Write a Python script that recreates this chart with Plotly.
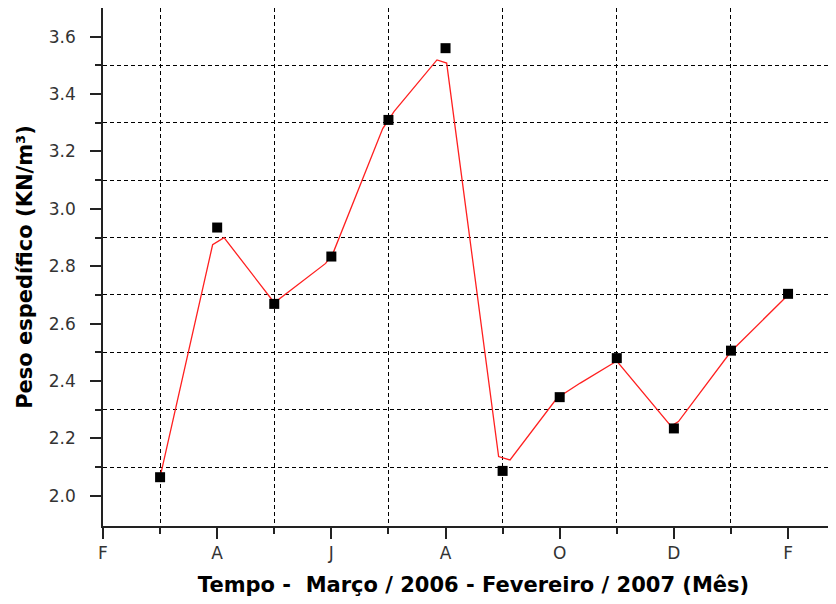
import plotly.graph_objects as go

# Data (months from Feb 2006 = 0)
month_index = [1, 2, 3, 4, 5, 6, 7, 8, 9, 10, 11, 12]
peso_especifico = [2.065, 2.935, 2.669, 2.834, 3.310, 3.560, 2.087, 2.344, 2.480, 2.235, 2.506, 2.704]

# smoothed red curve (as drawn in the original)
curve_month = [1.0, 1.92, 2.12, 3.0, 3.9, 4.03, 4.9, 5.1, 5.85, 6.02, 6.93, 7.13, 7.95, 8.36, 9.0, 9.95, 10.08, 11.0, 12.0]
curve_value = [2.065, 2.875, 2.90, 2.673, 2.81, 2.846, 3.28, 3.34, 3.519, 3.508, 2.137, 2.125, 2.34, 2.393, 2.47, 2.243, 2.259, 2.503, 2.70]

x_tick_vals = [0, 2, 4, 6, 8, 10, 12]
x_tick_text = ["F", "A", "J", "A", "O", "D", "F"]
x_minor_vals = [1, 3, 5, 7, 9, 11]
y_tick_vals = [2.0, 2.2, 2.4, 2.6, 2.8, 3.0, 3.2, 3.4, 3.6]
y_tick_text = ["2.0", "2.2", "2.4", "2.6", "2.8", "3.0", "3.2", "3.4", "3.6"]
y_minor_vals = [2.1, 2.3, 2.5, 2.7, 2.9, 3.1, 3.3, 3.5]

fig = go.Figure()
fig.add_trace(go.Scatter(x=curve_month, y=curve_value, mode="lines",
                         line=dict(color="#ff2020", width=1.3), showlegend=False, hoverinfo="skip"))
fig.add_trace(go.Scatter(x=month_index, y=peso_especifico, mode="markers",
                         marker=dict(symbol="square", size=10, color="black"),
                         showlegend=False))

axis_font = dict(family="DejaVu Sans, Verdana, sans-serif", size=17, color="#333333")
title_font = dict(family="DejaVu Sans, Verdana, sans-serif", size=21, color="black")

fig.update_layout(
    width=836, height=604,
    margin=dict(l=95, r=0, t=0, b=86),
    paper_bgcolor="white", plot_bgcolor="white",
    xaxis=dict(
        range=[0, 12.98], automargin=False,
        tickmode="array", tickvals=x_tick_vals, ticktext=x_tick_text,
        ticks="outside", ticklen=11, tickwidth=1.5, tickcolor="#222",
        showgrid=False, zeroline=False,
        showline=True, linecolor="#222", linewidth=1.5, mirror=True,
        tickfont=axis_font,
        minor=dict(tickvals=x_minor_vals, ticks="outside", ticklen=6, tickwidth=1.5, tickcolor="#222",
                   showgrid=True, gridcolor="black", gridwidth=1, griddash="4px,3px"),
        title=dict(text="<b>Tempo -  Março / 2006 - Fevereiro / 2007 (Mês)</b>", font=title_font, standoff=15),
    ),
    yaxis=dict(
        range=[1.895, 3.70], automargin=False,
        tickmode="array", tickvals=y_tick_vals, ticktext=y_tick_text,
        ticks="outside", ticklen=11, tickwidth=1.5, tickcolor="#222",
        showgrid=False, zeroline=False,
        showline=True, linecolor="#222", linewidth=1.5,
        tickfont=axis_font, ticklabelstandoff=11,
        minor=dict(tickvals=y_minor_vals, ticks="outside", ticklen=6, tickwidth=1.5, tickcolor="#222",
                   showgrid=True, gridcolor="black", gridwidth=1, griddash="4px,3px"),
        title=dict(text="<b>Peso espedífico (KN/m³)</b>", font=title_font, standoff=10),
    ),
)

fig.write_html("out.html")
